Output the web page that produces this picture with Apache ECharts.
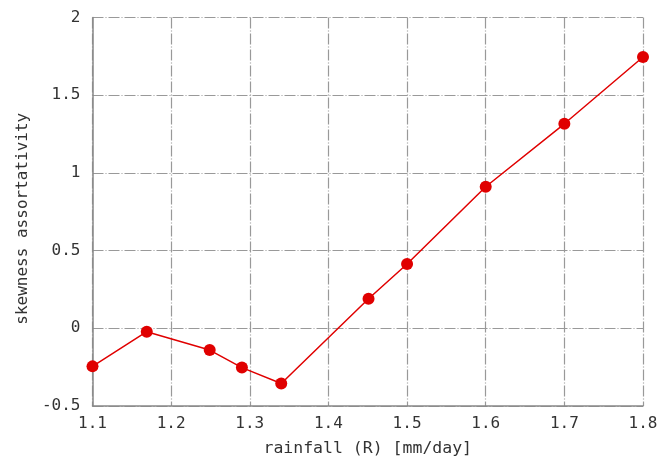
<!DOCTYPE html>
<html><head><meta charset="utf-8">
<script src="https://cdn.jsdelivr.net/npm/echarts@6/dist/echarts.min.js"></script>
<style>html,body{margin:0;padding:0;background:#fff}#c{width:664px;height:462px}</style>
</head><body><div id="c"></div>
<script>
const rainfall = [1.1, 1.169, 1.249, 1.290, 1.340, 1.451, 1.5, 1.6, 1.7, 1.8];
const skewAssort = [-0.245, -0.022, -0.14, -0.253, -0.355, 0.19, 0.414, 0.911, 1.316, 1.746];
const xTitle = 'rainfall (R) [mm/day]';
const yTitle = 'skewness assortativity';

const font = 'DejaVu Sans Mono';
const gridLine = {show: true, lineStyle: {color: '#999', width: 1.2, type: [11, 2, 1, 2]}};
const chart = echarts.init(document.getElementById('c'));
chart.setOption({
  animation: false,
  grid: {left: 92.5, right: 21, top: 17.5, bottom: 53.5},
  xAxis: {
    type: 'value', min: 1.1, max: 1.8, interval: 0.1,
    name: xTitle, nameLocation: 'middle', nameGap: 34,
    nameTextStyle: {fontFamily: font, fontSize: 16.5, color: '#333'},
    axisLine: {show: true, onZero: false, lineStyle: {color: '#888', width: 1.5}},
    axisTick: {show: false},
    axisLabel: {fontFamily: font, fontSize: 16, color: '#333', margin: 10,
      formatter: v => v.toFixed(1)},
    splitLine: gridLine
  },
  yAxis: {
    type: 'value', min: -0.5, max: 2, interval: 0.5,
    name: yTitle, nameLocation: 'middle', nameGap: 58,
    nameTextStyle: {fontFamily: font, fontSize: 16, color: '#333', padding: [0, 14, 0, 0]},
    axisLine: {show: true, onZero: false, lineStyle: {color: '#888', width: 1.5}},
    axisTick: {show: false},
    axisLabel: {fontFamily: font, fontSize: 16, color: '#333', margin: 12,
      formatter: v => String(v)},
    splitLine: gridLine
  },
  series: [{
    type: 'line',
    data: rainfall.map((x, i) => [x, skewAssort[i]]),
    symbol: 'circle', symbolSize: 12,
    itemStyle: {color: '#e00000'},
    lineStyle: {color: '#e00000', width: 1.5}
  }]
});
</script></body></html>
